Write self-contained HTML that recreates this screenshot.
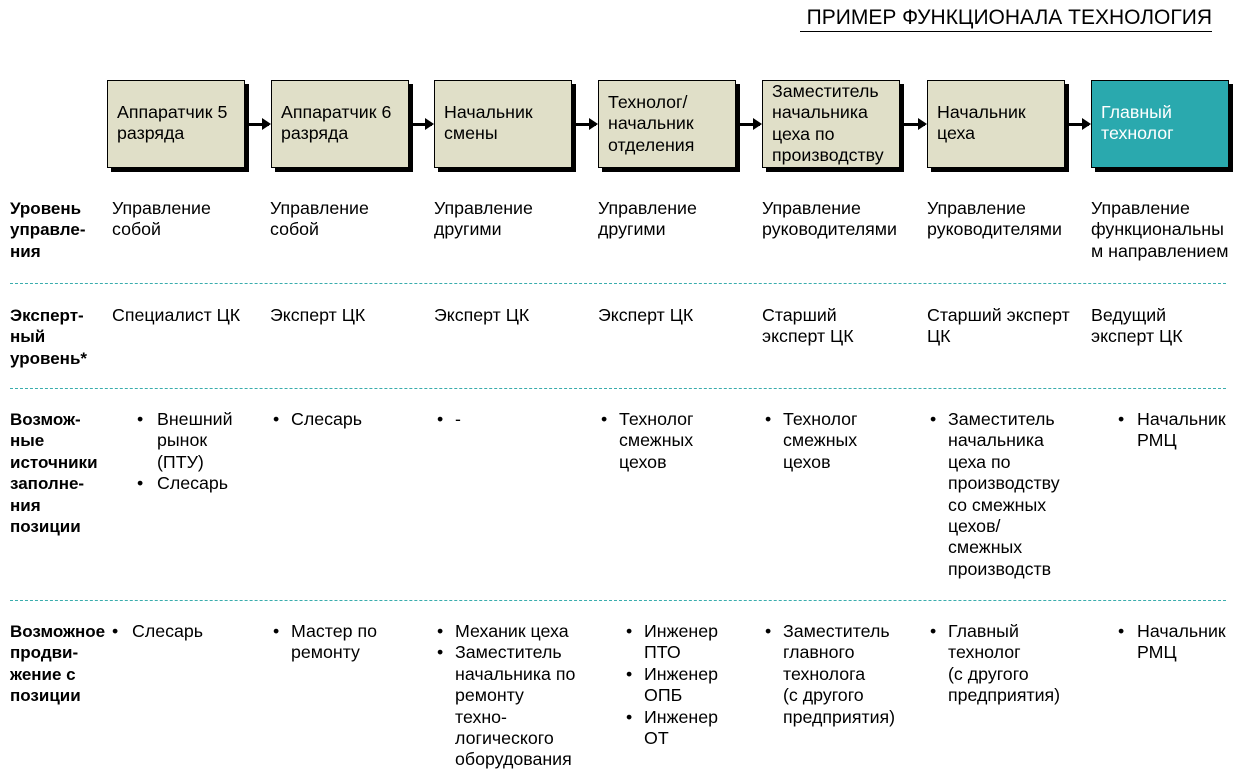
<!DOCTYPE html>
<html><head><meta charset="utf-8"><style>
body{margin:0;width:1242px;height:767px;background:#fff;position:relative;overflow:hidden;font-family:"Liberation Sans",Arial,sans-serif;color:#000;}
.a{position:absolute;font-size:17.8px;line-height:21.4px;white-space:nowrap;}
.b{font-weight:bold;font-size:17px;}
.box{position:absolute;top:80px;width:136px;height:86px;background:#e0dfc8;border:1px solid #000;box-shadow:4px 4px 0 #000;}
.d{position:absolute;left:10px;width:1216px;height:0;border-top:1px dashed #3aadad;}
.arr{position:absolute;top:123px;height:3px;background:#000;}
.arr:after{content:"";position:absolute;right:-2px;top:-5px;border-left:9px solid #000;border-top:6.5px solid transparent;border-bottom:6.5px solid transparent;}
</style></head><body>
<div class="a" style="left:790px;top:7px;font-size:21px;width:422px;text-align:right;">ПРИМЕР ФУНКЦИОНАЛА ТЕХНОЛОГИЯ</div>
<div style="position:absolute;left:800px;top:31px;width:412px;border-top:1px solid #000"></div>

<div class="box" style="left:107px"></div>
<div class="box" style="left:271px"></div>
<div class="box" style="left:434px"></div>
<div class="box" style="left:598px"></div>
<div class="box" style="left:762px"></div>
<div class="box" style="left:927px"></div>
<div class="box" style="left:1091px;background:#2aa9ae"></div>
<div class="arr" style="left:249px;width:20px"></div>
<div class="arr" style="left:413px;width:19px"></div>
<div class="arr" style="left:576px;width:20px"></div>
<div class="arr" style="left:740px;width:20px"></div>
<div class="arr" style="left:904px;width:21px"></div>
<div class="arr" style="left:1069px;width:20px"></div>

<div class="a" style="left:117px;top:102px">Аппаратчик 5<br>разряда</div>
<div class="a" style="left:281px;top:102px">Аппаратчик 6<br>разряда</div>
<div class="a" style="left:444px;top:102px">Начальник<br>смены</div>
<div class="a" style="left:608px;top:92px">Технолог/<br>начальник<br>отделения</div>
<div class="a" style="left:772px;top:81px">Заместитель<br>начальника<br>цеха по<br>производству</div>
<div class="a" style="left:937px;top:102px">Начальник<br>цеха</div>
<div class="a" style="left:1101px;top:102px;color:#fff">Главный<br>технолог</div>

<div class="a b" style="left:10px;top:198px">Уровень<br>управле-<br>ния</div>
<div class="a" style="left:112px;top:198px">Управление<br>собой</div>
<div class="a" style="left:270px;top:198px">Управление<br>собой</div>
<div class="a" style="left:434px;top:198px">Управление<br>другими</div>
<div class="a" style="left:598px;top:198px">Управление<br>другими</div>
<div class="a" style="left:762px;top:198px">Управление<br>руководителями</div>
<div class="a" style="left:927px;top:198px">Управление<br>руководителями</div>
<div class="a" style="left:1091px;top:198px">Управление<br>функциональны<br>м направлением</div>
<div class="d" style="top:283px"></div>

<div class="a b" style="left:10px;top:305px">Эксперт-<br>ный<br>уровень*</div>
<div class="a" style="left:112px;top:305px">Специалист ЦК</div>
<div class="a" style="left:270px;top:305px">Эксперт ЦК</div>
<div class="a" style="left:434px;top:305px">Эксперт ЦК</div>
<div class="a" style="left:598px;top:305px">Эксперт ЦК</div>
<div class="a" style="left:762px;top:305px">Старший<br>эксперт ЦК</div>
<div class="a" style="left:927px;top:305px">Старший эксперт<br>ЦК</div>
<div class="a" style="left:1091px;top:305px">Ведущий<br>эксперт ЦК</div>
<div class="d" style="top:388px"></div>

<div class="a b" style="left:10px;top:409px">Возмож-<br>ные<br>источники<br>заполне-<br>ния<br>позиции</div>
<div class="a" style="left:137px;top:409px">•<br><br><br>•</div>
<div class="a" style="left:157px;top:409px">Внешний<br>рынок<br>(ПТУ)<br>Слесарь</div>
<div class="a" style="left:273px;top:409px">•</div><div class="a" style="left:291px;top:409px">Слесарь</div>
<div class="a" style="left:437px;top:409px">•</div><div class="a" style="left:455px;top:409px">-</div>
<div class="a" style="left:601px;top:409px">•</div><div class="a" style="left:619px;top:409px">Технолог<br>смежных<br>цехов</div>
<div class="a" style="left:765px;top:409px">•</div><div class="a" style="left:783px;top:409px">Технолог<br>смежных<br>цехов</div>
<div class="a" style="left:930px;top:409px">•</div><div class="a" style="left:948px;top:409px">Заместитель<br>начальника<br>цеха по<br>производству<br>со смежных<br>цехов/<br>смежных<br>производств</div>
<div class="a" style="left:1118px;top:409px">•</div><div class="a" style="left:1137px;top:409px">Начальник<br>РМЦ</div>
<div class="d" style="top:600px"></div>

<div class="a b" style="left:10px;top:621px">Возможное<br>продви-<br>жение с<br>позиции</div>
<div class="a" style="left:112px;top:621px">•</div><div class="a" style="left:132px;top:621px">Слесарь</div>
<div class="a" style="left:273px;top:621px">•</div><div class="a" style="left:291px;top:621px">Мастер по<br>ремонту</div>
<div class="a" style="left:437px;top:621px">•<br>•</div><div class="a" style="left:455px;top:621px">Механик цеха<br>Заместитель<br>начальника по<br>ремонту<br>техно-<br>логического<br>оборудования</div>
<div class="a" style="left:626px;top:621px">•<br><br>•<br><br>•</div><div class="a" style="left:644px;top:621px">Инженер<br>ПТО<br>Инженер<br>ОПБ<br>Инженер<br>ОТ</div>
<div class="a" style="left:765px;top:621px">•</div><div class="a" style="left:783px;top:621px">Заместитель<br>главного<br>технолога<br>(с другого<br>предприятия)</div>
<div class="a" style="left:930px;top:621px">•</div><div class="a" style="left:948px;top:621px">Главный<br>технолог<br>(с другого<br>предприятия)</div>
<div class="a" style="left:1118px;top:621px">•</div><div class="a" style="left:1137px;top:621px">Начальник<br>РМЦ</div>
</body></html>
